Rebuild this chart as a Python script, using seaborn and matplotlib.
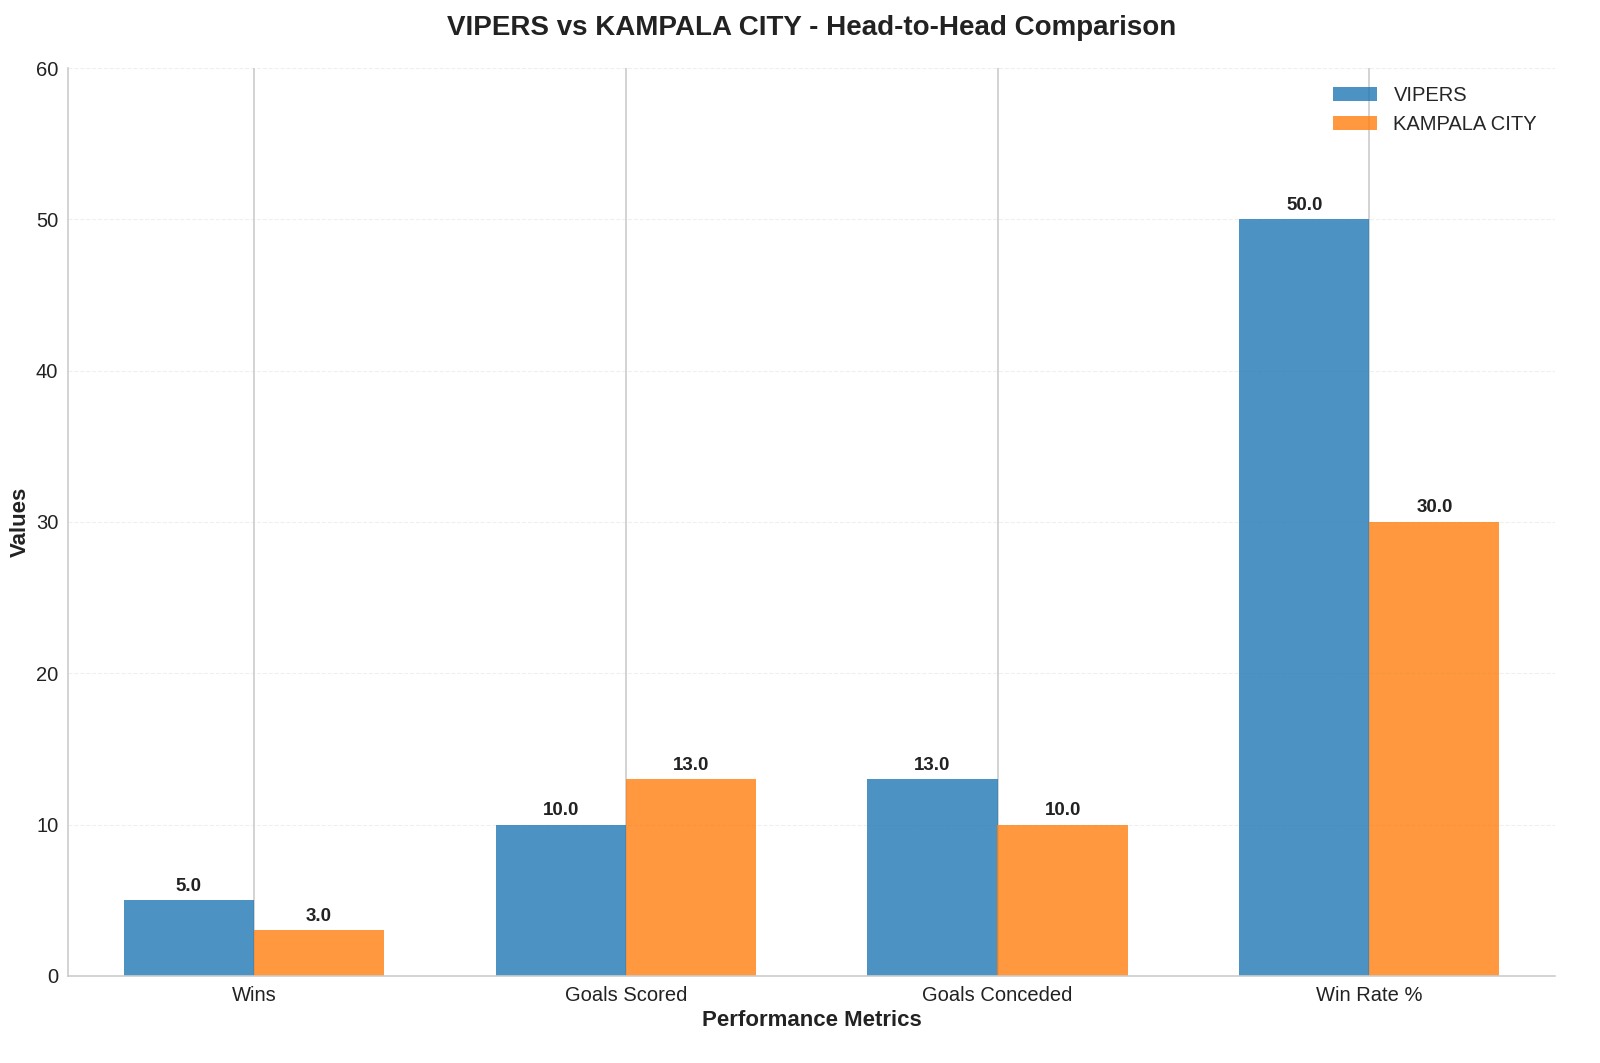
"""Head-to-head comparison bar chart: VIPERS vs KAMPALA CITY."""
import matplotlib
matplotlib.use("Agg")
import matplotlib.pyplot as plt
import pandas as pd
import seaborn as sns

metrics = ["Wins", "Goals Scored", "Goals Conceded", "Win Rate %"]
teams = ["VIPERS", "KAMPALA CITY"]
vipers_values = [5.0, 10.0, 13.0, 50.0]
kampala_values = [3.0, 13.0, 10.0, 30.0]
team_colors = ["#1f77b4", "#ff7f0e"]

df = pd.DataFrame({
    "metric": metrics * 2,
    "team": [teams[0]] * len(metrics) + [teams[1]] * len(metrics),
    "value": vipers_values + kampala_values,
})

sns.set_style("whitegrid")
plt.rcParams["font.family"] = ["Liberation Sans", "DejaVu Sans"]

fig, ax = plt.subplots(figsize=(16, 10.63), dpi=100)
sns.barplot(data=df, x="metric", y="value", hue="team", order=metrics,
            hue_order=teams, palette=team_colors, saturation=1, width=0.7,
            alpha=0.8, linewidth=0, errorbar=None, ax=ax)

for container in ax.containers:
    ax.bar_label(container, fmt="%.1f", padding=4, fontsize=13.5,
                 fontweight="bold", color="#222222")

ax.set_ylim(0, 60)
ax.set_title("VIPERS vs KAMPALA CITY - Head-to-Head Comparison",
             fontsize=20, fontweight="bold", pad=24, color="#222222")
ax.set_xlabel("Performance Metrics", fontsize=16, fontweight="bold", color="#222222")
ax.set_ylabel("Values", fontsize=16, fontweight="bold", color="#222222")
ax.tick_params(axis="both", labelsize=14.5, colors="#222222")

ax.grid(axis="y", linestyle="--", alpha=0.3)
ax.grid(axis="x", color="#cccccc", linewidth=1.2)
for side in ["top", "right"]:
    ax.spines[side].set_visible(False)
for side in ["left", "bottom"]:
    ax.spines[side].set_color("#cccccc")
    ax.spines[side].set_linewidth(1.2)

ax.legend(loc="upper right", frameon=False, fontsize=14.5, title=None,
          handlelength=2.2)

fig.subplots_adjust(left=0.0425, right=0.972, top=0.936, bottom=0.082)
fig.savefig("out.png", dpi=100)
